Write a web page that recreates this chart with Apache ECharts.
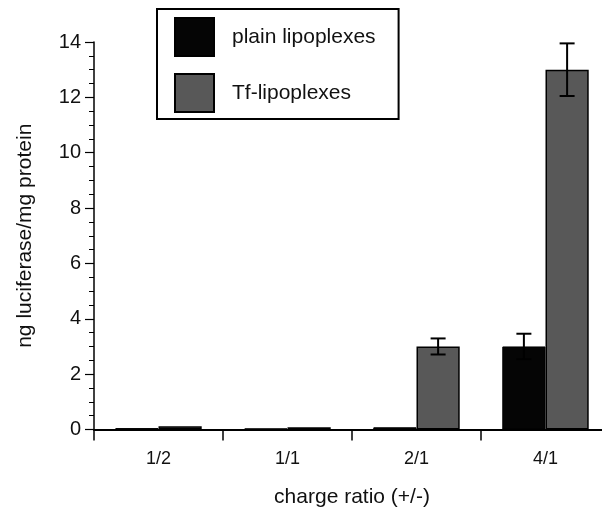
<!DOCTYPE html>
<html>
<head>
<meta charset="utf-8">
<script src="https://cdn.jsdelivr.net/npm/echarts@6/dist/echarts.min.js"></script>
<style>
html,body{margin:0;padding:0;background:#fff;}
#chart{width:602px;height:512px;}
</style>
</head>
<body>
<div id="chart"></div>
<script>
const categories = ['1/2', '1/1', '2/1', '4/1'];
const seriesNames = ['plain lipoplexes', 'Tf-lipoplexes'];
const plainValues = [0.05, 0.04, 0.08, 3.0];
const tfValues = [0.12, 0.08, 3.0, 13.0];
const plainErrors = [0, 0, 0, 0.46];
const tfErrors = [0, 0, 0.29, 0.95];
const yTicks = [0, 2, 4, 6, 8, 10, 12, 14];

const FONT = 'Liberation Sans, Arial, Helvetica, sans-serif';
const CAT_GAP = 0.33;

function errData(vals, errs) {
  const out = [];
  vals.forEach((v, i) => { if (errs[i] > 0) out.push([i, v - errs[i], v + errs[i]]); });
  return out;
}

function errRender(sign) {
  return function (params, api) {
    const x = api.value(0);
    const lo = api.coord([x, api.value(1)]);
    const hi = api.coord([x, api.value(2)]);
    const bw = api.size([1, 0])[0];
    const cx = lo[0] + sign * bw * (1 - CAT_GAP) / 4;
    const hw = 7.5;
    const st = { stroke: '#000', lineWidth: 2 };
    return {
      type: 'group',
      children: [
        { type: 'line', shape: { x1: cx, y1: hi[1], x2: cx, y2: lo[1] }, style: st },
        { type: 'line', shape: { x1: cx - hw, y1: hi[1], x2: cx + hw, y2: hi[1] }, style: st },
        { type: 'line', shape: { x1: cx - hw, y1: lo[1], x2: cx + hw, y2: lo[1] }, style: st }
      ]
    };
  };
}

const chart = echarts.init(document.getElementById('chart'), null, { renderer: 'canvas' });
chart.setOption({
  animation: false,
  backgroundColor: '#fff',
  textStyle: { fontFamily: FONT },
  grid: { left: 94, top: 42, width: 516, height: 387.5, containLabel: false, outerBoundsMode: 'none' },
  legend: {
    orient: 'vertical',
    left: 157,
    top: 9,
    padding: [8, 23, 6, 17],
    itemWidth: 39,
    itemHeight: 38,
    itemGap: 16,
    borderColor: '#000',
    borderWidth: 2,
    data: seriesNames,
    textStyle: { fontFamily: FONT, fontSize: 21, color: '#111', padding: [0, 0, 0, 13] },
    icon: 'rect'
  },
  xAxis: {
    type: 'category',
    data: categories,
    name: 'charge ratio (+/-)',
    nameLocation: 'middle',
    nameGap: 57,
    nameTextStyle: { fontFamily: FONT, fontSize: 21, color: '#111' },
    axisLine: { lineStyle: { color: '#000', width: 2 } },
    axisTick: { show: true, length: 11, lineStyle: { color: '#000', width: 1.5 } },
    axisLabel: { fontFamily: FONT, fontSize: 18, color: '#111', margin: 21 },
    splitLine: { show: false }
  },
  yAxis: {
    type: 'value',
    min: yTicks[0],
    max: yTicks[yTicks.length - 1],
    interval: yTicks[1] - yTicks[0],
    name: 'ng luciferase/mg protein',
    nameLocation: 'middle',
    nameGap: 58,
    nameTextStyle: { fontFamily: FONT, fontSize: 21, color: '#111' },
    axisLine: { show: true, lineStyle: { color: '#000', width: 1.5 } },
    axisTick: { show: true, length: 9, lineStyle: { color: '#000', width: 1.2 } },
    minorTick: { show: true, splitNumber: 4, length: 5, lineStyle: { color: '#000', width: 1 } },
    axisLabel: { fontFamily: FONT, fontSize: 20, color: '#111', margin: 13 },
    splitLine: { show: false }
  },
  series: [
    {
      name: seriesNames[0],
      type: 'bar',
      data: plainValues,
      barGap: '0%',
      barCategoryGap: (CAT_GAP * 100) + '%',
      itemStyle: { color: '#050505', borderColor: '#000', borderWidth: 1 }
    },
    {
      name: seriesNames[1],
      type: 'bar',
      data: tfValues,
      barGap: '0%',
      barCategoryGap: (CAT_GAP * 100) + '%',
      itemStyle: { color: '#585858', borderColor: '#000', borderWidth: 1.5 }
    },
    {
      type: 'custom',
      data: errData(plainValues, plainErrors),
      renderItem: errRender(-1),
      z: 5,
      silent: true
    },
    {
      type: 'custom',
      data: errData(tfValues, tfErrors),
      renderItem: errRender(1),
      z: 5,
      silent: true
    }
  ]
});
</script>
</body>
</html>
